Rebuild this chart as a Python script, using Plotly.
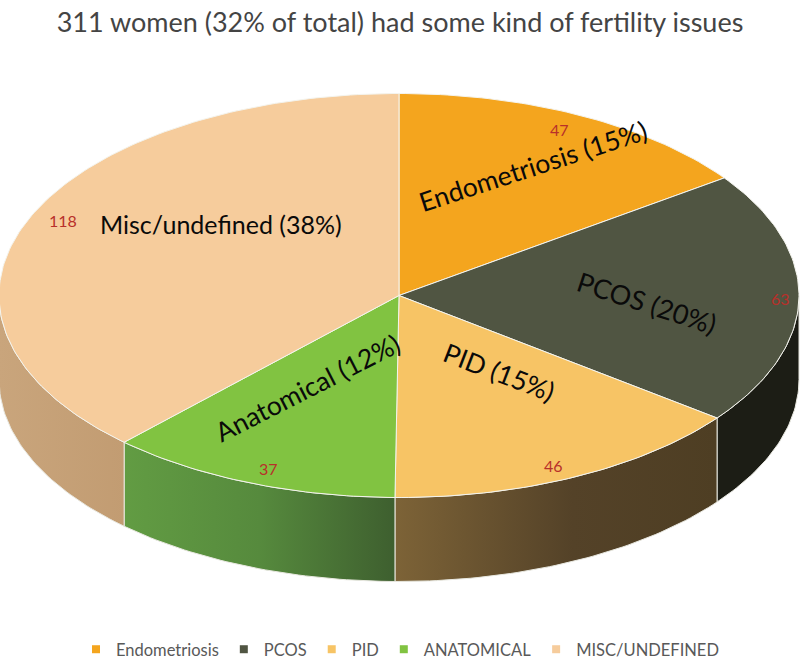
import math
import plotly.graph_objects as go

# --- data ---
categories = ["Endometriosis", "PCOS", "PID", "Anatomical", "Misc/undefined"]
legend_labels = ["Endometriosis", "PCOS", "PID", "ANATOMICAL", "MISC/UNDEFINED"]
counts = [47, 63, 46, 37, 118]
percents = [15, 20, 15, 12, 38]
title_text = "311 women (32% of total) had some kind of fertility issues"

# --- styles ---
top_colors = ["#f4a51e", "#505542", "#f7c465", "#81c341", "#f6cc9c"]
side_gradients = [
    [[0, "#8a5e12"], [1, "#8a5e12"]],
    [[0, "#1c1d15"], [1, "#1c1d15"]],
    [[0, "#7d6337"], [0.55, "#544228"], [1, "#4e3e23"]],
    [[0, "#629c43"], [0.5, "#568a3d"], [1, "#3e5f2f"]],
    [[0, "#c9a57c"], [1, "#c29c72"]],
]
FONT = "Lato"
CX, CY, RX, RY, DEPTH = 399, 295.5, 400, 202, 84
label_pos = [(533, 166, -18), (647, 302, 18), (499, 372, 21), (307, 388, -27), (221, 224, 0)]
label_sizes = [26.5, 27, 26.5, 26.5, 25]
count_pos = [(559, 129), (780, 298), (553, 465), (268, 468), (63, 220)]


def pt(deg, dy=0.0):
    a = math.radians(deg)
    return CX + RX * math.sin(a), CY - RY * math.cos(a) + dy


def arc(a0, a1, dy=0.0):
    n = max(2, int(abs(a1 - a0)) + 1)
    return [pt(a0 + (a1 - a0) * i / n, dy) for i in range(n + 1)]


total = sum(counts)
edges = [0.0]
for c in counts:
    edges.append(edges[-1] + 360.0 * c / total)

fig = go.Figure()

# side walls: only the front half of the disc (90..270 degrees) is visible
for i in range(len(counts)):
    a0, a1 = max(edges[i], 90.0), min(edges[i + 1], 270.0)
    if a1 <= a0:
        continue
    poly = arc(a0, a1) + arc(a1, a0, DEPTH)
    poly.append(poly[0])
    fig.add_trace(go.Scatter(
        x=[p[0] for p in poly], y=[p[1] for p in poly], mode="lines", fill="toself",
        fillgradient=dict(type="horizontal", colorscale=side_gradients[i]),
        line=dict(color="#e8e8e0", width=1), showlegend=False, hoverinfo="skip"))

# top slices
for i, name in enumerate(categories):
    poly = [(CX, CY)] + arc(edges[i], edges[i + 1]) + [(CX, CY)]
    fig.add_trace(go.Scatter(
        x=[p[0] for p in poly], y=[p[1] for p in poly], mode="lines", fill="toself",
        fillcolor=top_colors[i], line=dict(color="#f4f4ee", width=1),
        name=name, showlegend=False, hoverinfo="skip"))

# legend entries
for i, name in enumerate(legend_labels):
    fig.add_trace(go.Scatter(
        x=[None], y=[None], mode="markers", name=name,
        marker=dict(symbol="square", size=8, color=top_colors[i])))

annotations = []
for i, name in enumerate(categories):
    x, y, rot = label_pos[i]
    annotations.append(dict(x=x, y=y, xref="x", yref="y", showarrow=False, textangle=rot,
                            text=f"{name} ({percents[i]}%)",
                            font=dict(family=FONT, size=label_sizes[i], color="#0a0a0a")))
    x, y = count_pos[i]
    annotations.append(dict(x=x, y=y, xref="x", yref="y", showarrow=False, text=str(counts[i]),
                            font=dict(family=FONT, size=16, color="#b8302a")))

fig.update_layout(
    width=800, height=667, margin=dict(l=0, r=0, t=0, b=0, autoexpand=False),
    paper_bgcolor="white", plot_bgcolor="white",
    title=dict(text=title_text, x=0.5, xanchor="center", y=0.966, yanchor="middle",
               font=dict(family=FONT, size=27, color="#444444")),
    xaxis=dict(range=[0, 800], visible=False, fixedrange=True),
    yaxis=dict(range=[667, 0], visible=False, fixedrange=True),
    legend=dict(orientation="h", x=0.5, xanchor="center", y=0.0, yanchor="bottom",
                font=dict(family=FONT, size=16.5, color="#595959"), itemwidth=30,
                traceorder="normal", tracegroupgap=0),
    annotations=annotations,
)
fig.write_html("out.html", config={"displayModeBar": False},
               post_script="document.body.style.margin='0';")
